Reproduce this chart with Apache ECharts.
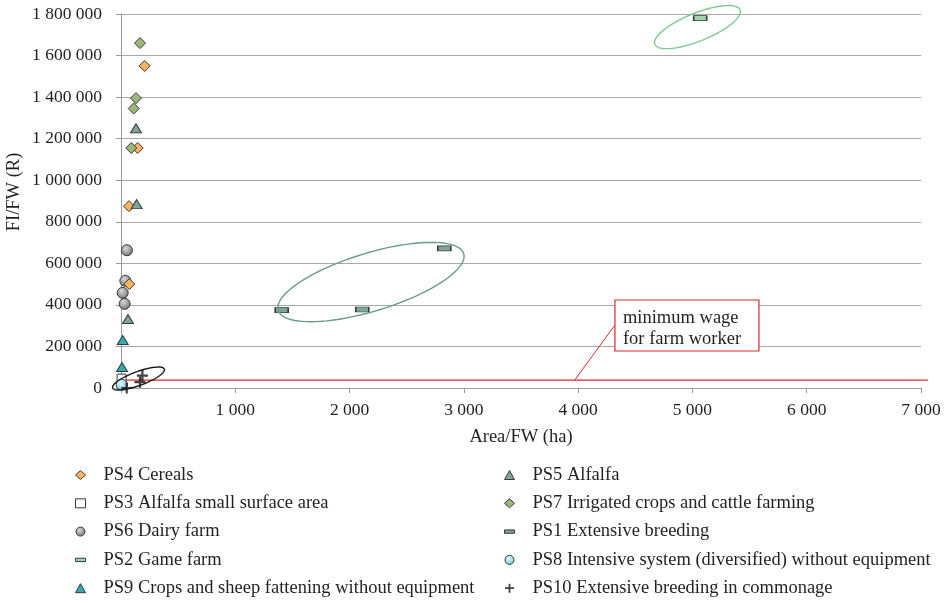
<!DOCTYPE html>
<html><head><meta charset="utf-8">
<script src="https://cdn.jsdelivr.net/npm/echarts@6/dist/echarts.min.js"></script>
<style>html,body{margin:0;padding:0;background:#fff}#c{width:952px;height:603px}</style>
</head><body><div id="c"></div>
<script>
// ---------- data ----------
const xTickLabels = ['', '1 000', '2 000', '3 000', '4 000', '5 000', '6 000', '7 000'];
const yTickLabels = ['0', '200 000', '400 000', '600 000', '800 000', '1 000 000', '1 200 000', '1 400 000', '1 600 000', '1 800 000'];
const xName = 'Area/FW (ha)';
const yName = 'FI/FW (R)';

const ps4 = [[207, 1550000], [146, 1155000], [70, 875000], [73, 500000]];
const ps5 = [[131, 1250000], [137, 885000], [61, 332000]];
const ps3 = [[5, 45000]];
const ps7 = [[166, 1660000], [131, 1395000], [111, 1345000], [90, 1155000]];
const ps6 = [[52, 663000], [38, 516000], [15, 458000], [32, 405000]];
const ps1 = [[1406, 375000], [2111, 378000], [2829, 672000]];
const ps2 = [[5068, 1780000]];
const ps8 = [[6, 16000]];
const ps9 = [[15, 231000], [9, 101000]];
const ps10 = [[187, 60000], [166, 28000], [50, 0]];

const minWage = 38000;
const minWageXEnd = 7060;
const calloutLines = ['minimum wage', 'for farm worker'];

const names = {
  ps4: 'PS4 Cereals',
  ps5: 'PS5 Alfalfa',
  ps3: 'PS3 Alfalfa small surface area',
  ps7: 'PS7 Irrigated crops and cattle farming',
  ps6: 'PS6 Dairy farm',
  ps1: 'PS1 Extensive breeding',
  ps2: 'PS2 Game farm',
  ps8: 'PS8 Intensive system (diversified) without equipment',
  ps9: 'PS9 Crops and sheep fattening without equipment',
  ps10: 'PS10 Extensive breeding in commonage'
};

// ---------- style ----------
const FONT = '"Liberation Serif", "DejaVu Serif", serif';
const TXT = '#231f20';
const BORDER = '#3a3a3a';
const RED = '#e0262f';
const CROSS = 'path://M4,0H6V4H10V6H6V10H4V6H0V4H4Z';
const BAR = 'path://M0,0H30V10H0Z';

function radial(c1, c2) {
  return { type: 'radial', x: 0.4, y: 0.35, r: 0.7, colorStops: [{ offset: 0, color: c1 }, { offset: 1, color: c2 }] };
}

function sc(key, data, symbol, size, fill, extra) {
  return Object.assign({
    name: names[key], type: 'scatter', data: data, symbol: symbol, symbolSize: size,
    itemStyle: { color: fill, borderColor: BORDER, borderWidth: 1, opacity: 1 },
    emphasis: { disabled: true }, z: 3
  }, extra || {});
}

const series = [
  sc('ps1', ps1, 'rect', [13, 5], '#7fa596'),
  sc('ps2', ps2, 'rect', [13, 5], '#9fd6a9'),
  sc('ps3', ps3, 'rect', [9, 9], '#ffffff'),
  sc('ps6', ps6, 'circle', 11, radial('#d8d8d8', '#6e6e6e')),
  sc('ps4', ps4, 'diamond', [11, 11], '#fbb45c'),
  sc('ps7', ps7, 'diamond', [11, 11], '#9db77a'),
  sc('ps5', ps5, 'triangle', [11, 9], '#7fa596'),
  sc('ps9', ps9, 'triangle', [11, 9], '#36aab8'),
  sc('ps8', ps8, 'circle', 11, radial('#e4f7fb', '#6cc8d8')),
  sc('ps10', ps10, CROSS, 11, '#111111', { itemStyle: { color: '#111111', borderWidth: 0 } })
];

const legendCommon = {
  orient: 'vertical', itemWidth: 10, itemHeight: 9, itemGap: 9.3,
  itemStyle: { borderWidth: 1 },
  selectedMode: false, top: 460.5
};
const legText = { fontFamily: FONT, fontSize: 18.5, color: TXT, lineHeight: 19 };
const icon = { ps1: BAR, ps2: BAR, ps3: 'rect', ps10: CROSS, ps4: 'diamond', ps7: 'diamond', ps5: 'triangle', ps9: 'triangle', ps6: 'circle', ps8: 'circle' };
function legItems(keys) { return keys.map(k => ({ name: names[k], icon: icon[k] })); }

const option = {
  animation: false,
  backgroundColor: '#ffffff',
  textStyle: { fontFamily: FONT },
  grid: { left: 121, right: 31, top: 14, bottom: 215, containLabel: false, outerBoundsMode: 'none' },
  xAxis: {
    type: 'value', min: 0, max: 7000, interval: 1000,
    name: xName, nameLocation: 'middle', nameGap: 39.5,
    nameTextStyle: { fontFamily: FONT, fontSize: 18.5, color: TXT },
    axisLine: { show: true, lineStyle: { color: '#9a9a9a', width: 1 } },
    axisTick: { show: true, length: 5, lineStyle: { color: '#9a9a9a' } },
    splitLine: { show: false },
    axisLabel: { fontFamily: FONT, fontSize: 17.5, color: TXT, margin: 13,
      formatter: v => xTickLabels[Math.round(v / 1000)] }
  },
  yAxis: {
    type: 'value', min: 0, max: 1800000, interval: 200000,
    name: yName, nameLocation: 'middle', nameGap: 97, nameRotate: 90, nameMoveOverlap: false,
    nameTextStyle: { fontFamily: FONT, fontSize: 18.5, color: TXT, padding: [0, 0, 0, 18] },
    axisLine: { show: true, lineStyle: { color: '#9a9a9a', width: 1 } },
    axisTick: { show: true, length: 5, lineStyle: { color: '#9a9a9a' } },
    splitLine: { show: true, lineStyle: { color: '#a8a8a8', width: 1 } },
    axisLabel: { fontFamily: FONT, fontSize: 17.5, color: TXT, margin: 19,
      formatter: v => yTickLabels[Math.round(v / 200000)] }
  },
  legend: [
    Object.assign({}, legendCommon, { left: 70, data: legItems(['ps4', 'ps3', 'ps6', 'ps2', 'ps9']),
      textStyle: Object.assign({}, legText, { padding: [0, 0, 0, 13] }) }),
    Object.assign({}, legendCommon, { left: 499, data: legItems(['ps5', 'ps7', 'ps1', 'ps8', 'ps10']),
      textStyle: Object.assign({}, legText, { padding: [0, 0, 0, 13] }) })
  ],
  series: series
};

const chart = echarts.init(document.getElementById('c'), null, { renderer: 'canvas' });
chart.setOption(option);

// ---------- annotations (anchored in data coordinates) ----------
const ellipses = [
  { center: [2187, 510000], a: 97, b: 29, angle: 17, color: '#6a9c8a' },
  { center: [5044, 1737000], a: 46, b: 14, angle: 22, color: '#7ccb90' },
  { center: [153, 45700], a: 27.5, b: 7, angle: 20, color: '#1a1a1a' }
];
const callout = { anchor: [3970, minWage], tip: [4322, 303000], boxTL: [4322, 423500], boxBR: [5582, 178000] };

function ellipsePts(cx, cy, a, b, deg) {
  const t = deg * Math.PI / 180, pts = [];
  for (let i = 0; i <= 96; i++) {
    const th = i / 96 * Math.PI * 2;
    const x = a * Math.cos(th), y = b * Math.sin(th);
    pts.push([cx + x * Math.cos(t) + y * Math.sin(t), cy - x * Math.sin(t) + y * Math.cos(t)]);
  }
  return pts;
}
function px(p) { return chart.convertToPixel({ gridIndex: 0 }, p); }

const g = [];
const w0 = px([0, minWage]), w1 = px([minWageXEnd, minWage]);
g.push({ type: 'line', shape: { x1: w0[0], y1: w0[1], x2: w1[0], y2: w1[1] }, style: { stroke: RED, lineWidth: 1.2 }, z: 2, silent: true });
ellipses.forEach(e => {
  const c = px(e.center);
  g.push({ type: 'polyline', shape: { points: ellipsePts(c[0], c[1], e.a, e.b, e.angle) },
    style: { fill: null, stroke: e.color, lineWidth: 1.4 }, z: 10, silent: true });
});
const a0 = px(callout.anchor), t0 = px(callout.tip), tl = px(callout.boxTL), br = px(callout.boxBR);
g.push({ type: 'line', shape: { x1: a0[0], y1: a0[1], x2: t0[0], y2: t0[1] }, style: { stroke: RED, lineWidth: 1 }, z: 10, silent: true });
g.push({ type: 'rect', shape: { x: tl[0], y: tl[1], width: br[0] - tl[0], height: br[1] - tl[1] },
  style: { fill: '#ffffff', stroke: RED, lineWidth: 1.2 }, z: 10, silent: true });
g.push({ type: 'text', x: tl[0] + 8, y: tl[1] + 8, z: 11, silent: true,
  style: { text: calloutLines.join('\n'), font: '18.5px ' + FONT, fill: TXT, lineHeight: 21 } });
chart.setOption({ graphic: g });
</script>
</body></html>
